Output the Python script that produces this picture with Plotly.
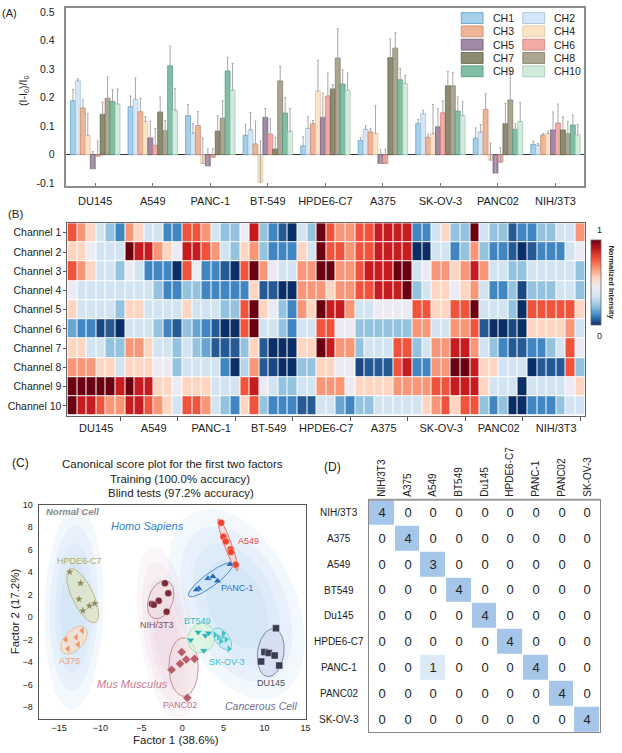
import numpy as np
import plotly.graph_objects as go

W, H = 622, 753
FONT = "Liberation Sans, Arial, sans-serif"


def fx(p):
    return p / W


def fy(p):
    return 1 - p / H


# ---------------- Panel A data ----------------
cell_lines = ["DU145", "A549", "PANC-1", "BT-549", "HPDE6-C7", "A375", "SK-OV-3", "PANC02", "NIH/3T3"]
channel_names = ["CH1", "CH2", "CH3", "CH4", "CH5", "CH6", "CH7", "CH8", "CH9", "CH10"]

CH1 = [0.189, 0.168, 0.137, 0.068, 0.031, 0.050, 0.109, 0.058, 0.036]
CH2 = [0.259, 0.194, 0.076, 0.087, 0.092, 0.089, 0.144, 0.080, 0.033]
CH3 = [0.164, 0.151, 0.103, 0.038, 0.109, 0.080, 0.061, 0.159, 0.069]
CH4 = [0.068, 0.117, -0.031, -0.097, 0.224, 0.074, 0.074, -0.019, 0.074]
CH5 = [-0.049, 0.059, -0.039, 0.131, 0.131, -0.031, 0.098, -0.064, 0.087]
CH6 = [-0.005, 0.033, -0.009, 0.072, 0.206, -0.031, 0.147, -0.026, 0.111]
CH7 = [0.142, 0.150, 0.083, 0.020, 0.231, 0.341, 0.242, 0.109, 0.087]
CH8 = [0.198, 0.084, 0.128, 0.259, 0.339, 0.374, 0.242, 0.192, 0.074]
CH9 = [0.187, 0.312, 0.294, 0.146, 0.248, 0.263, 0.153, 0.089, 0.104]
CH10 = [0.178, 0.157, 0.226, 0.083, 0.226, 0.250, 0.137, 0.117, 0.070]

ERR1 = [0.040, 0.038, 0.039, 0.039, 0.032, 0.011, 0.015, 0.036, 0.011]
ERR2 = [0.008, 0.075, 0.033, 0.061, 0.041, 0.013, 0.012, 0.026, 0.006]
ERR3 = [0.028, 0.047, 0.048, 0.080, 0.011, 0.011, 0.011, 0.055, 0.005]
ERR4 = [0.076, 0.016, 0.090, 0.145, 0.107, 0.098, 0.102, 0.060, 0.009]
ERR5 = [0.060, 0.059, 0.060, 0.031, 0.085, 0.050, 0.063, 0.060, 0.063]
ERR6 = [0.053, 0.059, 0.030, 0.054, 0.081, 0.050, 0.042, 0.050, 0.067]
ERR7 = [0.042, 0.053, 0.054, 0.041, 0.015, 0.065, 0.050, 0.071, 0.046]
ERR8 = [0.075, 0.036, 0.061, 0.052, 0.103, 0.054, 0.047, 0.102, 0.043]
ERR9 = [0.042, 0.069, 0.048, 0.055, 0.050, 0.040, 0.050, 0.020, 0.035]
ERR10 = [0.053, 0.076, 0.094, 0.079, 0.061, 0.028, 0.049, 0.066, 0.036]

bar_values = [CH1, CH2, CH3, CH4, CH5, CH6, CH7, CH8, CH9, CH10]
bar_errors = [ERR1, ERR2, ERR3, ERR4, ERR5, ERR6, ERR7, ERR8, ERR9, ERR10]
bar_fill = ["#a6d0ea", "#d5e7f6", "#efb396", "#fde3c6", "#a08aa6",
            "#f2aaa4", "#8c8c72", "#aaa690", "#80bfa6", "#d3ebdd"]
bar_line = ["#5a9cc8", "#9dbfdc", "#c98a6e", "#e3c19c", "#6e5a78",
            "#d07f7a", "#5e5e48", "#7c7864", "#4f957b", "#9fc6ae"]

# ---------------- Panel B data (0 = low ... 9 = high) ----------------
channel_labels = ["Channel %d" % i for i in range(1, 11)]
heat_row1 = [7,6,5,3,2,1, 6,5,3,3,1,1, 7,7,6,3,2,2, 4,8,2,1,0.5,0, 3,2,9,7,6,6, 7,7,8,8,8,8, 1,1,3,5,2,2, 9,3,2,2,0.5,1, 1,2,2,3,3,6]
heat_row2 = [5,5,4,3,3,3, 9,8,8,6,5,4, 8,8,7,6,3,2, 5,6,2,1,1,1, 5,3,9,7,7,6, 7,7,8,8,8,8, 0,0,3,3,1,2, 6,2,1,1,0.5,0, 0.5,1,1,1,3,4]
heat_row3 = [7,6,5,3,3,2, 4,3,1,1,1,0, 7,4,1,1,0.5,0, 7,9,6,4,3,3, 6,6,9,9,6,6, 7,8,8,8,9,9, 3,4,6,6,5,6, 8,6,3,3,2,2, 3,3,3,3,3,2]
heat_row4 = [4,3,3,3,3,3, 3,3,3,2,1,1, 2,2,1,1,1,1, 1,5,0.5,0.5,0,0, 6,6,6,5,6,6, 7,7,8,8,8,9, 2,3,5,5,4,5, 6,3,1,1,2,0.3, 2,2,2,3,3,2]
heat_row5 = [5,3,3,3,3,2, 5,5,3,3,3,3, 5,3,3,3,2,2, 7,9,5,4,2,1, 6,5,9,8,8,6, 3,3,4,4,4,4, 7,7,5,5,7,7, 9,3,3,3,2,0, 7,7,7,7,7,5]
heat_row6 = [1.5,1,1,0.3,0.5,0, 3,3,3,2,1,0.5, 2,1.5,1,0.5,0,0, 7,9,3,3,2,1, 3,3,7,7,4,4, 2,2,2,2,2,2, 6,6,3,3,6,6, 7,0.5,0,0,0.3,0, 5,5,5,5,6,3]
heat_row7 = [5,5,3,3,2,2, 6,6,5,3,3,2, 3,2,1.5,0.5,0.5,0.5, 2,5,0.5,0,0,0, 5,5,9,8,6,6, 2,3,3,3,7,7, 2,3,6,6,8,8, 6,3,2,1,0.5,0.5, 1,1,2,3,7,4]
heat_row8 = [6,6,6,5,5,3, 5,5,5,4,4,2, 3,3,3,3,1,0, 2.5,6,0.5,0.3,0,0, 2,2,5,5,4,4, 0.3,0.5,0.5,0.5,7,8, 1,1,6,6,9,9, 8,5,5,3,3,3, 0,0.5,0.5,0.5,7,2]
heat_row9 = [9,9,9,9,9,8, 9,8,8,5,5,4, 5,5,5,3,3,3, 7,8,4,3,2,2, 3,3,6,6,6,4, 5,5,5,5,6,6, 6,6,7,7,8,8, 8,5,3,3,3,0, 3,3,3,3,4,5]
heat_row10 = [9,8,8,7,6,6, 8,8,7,6,5,3, 7,7,6,3,2,1, 5,7,2,1,1,1, 0.5,0.5,3,3,1.5,1, 2,2,3,3,3,3, 3,5,6,7,5,7, 7,2,1,2,0,0, 1,1,1,2,3,3]
heat_rows = [heat_row1, heat_row2, heat_row3, heat_row4, heat_row5,
             heat_row6, heat_row7, heat_row8, heat_row9, heat_row10]
reps_per_line = 6
heat_colors = ["#0a2e66", "#3f86c2", "#93c3df", "#d2e4f1", "#ecebf3",
               "#fdd5c0", "#f99677", "#f0533b", "#c61c1f", "#6a0010"]

# ---------------- Panel C data ----------------
a549_x = [4.72, 5.0, 5.28, 5.88, 5.92, 6.48]
a549_y = [8.38, 7.14, 6.73, 6.02, 5.78, 4.66]
panc1_x = [5.8, 3.12, 3.72, 4.28, 2.0, 1.72]
panc1_y = [4.69, 3.42, 3.6, 3.21, 2.54, 2.42]
hpde_x = [-13.72, -12.4, -12.6, -12.12, -11.32, -10.68]
hpde_y = [4.01, 3.01, 1.59, 0.56, 1.0, 1.21]
a375_x = [-12.2, -12.93, -14.2, -13.93, -12.69]
a375_y = [-1.21, -1.8, -2.0, -2.83, -2.45]
nih_x = [-2.12, -1.72, -2.88, -3.72, -3.48, -1.92]
nih_y = [3.01, 2.12, 1.44, 1.15, 1.09, 0.47]
panc02_x = [-0.08, -0.28, 0.48, 1.48, -1.32, 0.6]
panc02_y = [-3.12, -4.16, -3.78, -3.72, -4.69, -7.19]
du145_x = [11.4, 10.0, 10.52, 11.24, 9.6, 11.8]
du145_y = [-1.0, -3.12, -3.19, -3.42, -3.96, -4.31]
bt549_x = [1.0, 1.92, 2.6, 2.8, 3.2]
bt549_y = [-2.04, -1.35, -2.98, -1.65, -1.42]
skov3_x = [4.0, 4.4, 4.92, 4.68, 5.32, 5.68, 5.0]
skov3_y = [-1.59, -1.8, -1.71, -2.15, -2.0, -2.83, -1.45]

# name, xs, ys, symbol, marker color, ellipse fill, ellipse line, label color, label pos
clusters = [
    ("HPDE6-C7", hpde_x, hpde_y, "star", "#8b8b5c", "rgba(222,228,185,0.65)", "#b8b88c", "#b0ad62", (-12.5, 4.96)),
    ("A375", a375_x, a375_y, "triangle-left", "#ee9268", "rgba(250,222,195,0.65)", "#f0bc98", "#eea070", (-13.8, -3.89)),
    ("NIH/3T3", nih_x, nih_y, "circle", "#7a2a38", "rgba(238,220,220,0.55)", "#b89090", "#7d4b5a", (-3.12, -0.71)),
    ("PANC02", panc02_x, panc02_y, "diamond", "#b85c68", "rgba(242,220,222,0.45)", "#c89090", "#c0707e", (-0.24, -7.79)),
    ("A549", a549_x, a549_y, "circle", "#f2402f", "rgba(250,205,195,0.55)", "#f07060", "#f04a35", (8.04, 6.73)),
    ("PANC-1", panc1_x, panc1_y, "triangle-up", "#1f68b8", "rgba(205,228,246,0.6)", "#4a8ad0", "#2a75c5", (6.6, 2.57)),
    ("BT549", bt549_x, bt549_y, "triangle-down", "#2bb3b8", "rgba(215,246,218,0.75)", "#a8dcb8", "#3dbfbf", (1.8, -0.35)),
    ("SK-OV-3", skov3_x, skov3_y, "triangle-right", "#45c0cc", "rgba(192,236,242,0.6)", "#70ccd6", "#3dbfd0", (5.4, -4.0)),
    ("DU145", du145_x, du145_y, "square", "#3a3d52", "rgba(208,216,236,0.65)", "#7a88aa", "#4a4d5e", (10.8, -5.84)),
]

region_names = ["Normal Cell", "Mus Musculus", "Cancerous Cell"]
region_center = [(-13.2, 0.8), (-2.0, -1.5), (6.6, 1.15)]
region_u = [(0.3, 9.0), (1.6, -7.75), (5.1, -8.19)]
region_v = [(3.6, 0.0), (3.2, 0.3), (-6.57, -2.22)]
region_rgb = ["150,190,240", "220,172,200", "150,190,240"]

# ---------------- Panel D data ----------------
conf_labels = ["NIH/3T3", "A375", "A549", "BT549", "Du145", "HPDE6-C7", "PANC-1", "PANC02", "SK-OV-3"]
conf_matrix = [
    [4, 0, 0, 0, 0, 0, 0, 0, 0],
    [0, 4, 0, 0, 0, 0, 0, 0, 0],
    [0, 0, 3, 0, 0, 0, 0, 0, 0],
    [0, 0, 0, 4, 0, 0, 0, 0, 0],
    [0, 0, 0, 0, 4, 0, 0, 0, 0],
    [0, 0, 0, 0, 0, 4, 0, 0, 0],
    [0, 0, 1, 0, 0, 0, 4, 0, 0],
    [0, 0, 0, 0, 0, 0, 0, 4, 0],
    [0, 0, 0, 0, 0, 0, 0, 0, 4],
]

fig = go.Figure()

# ---------------- Panel A traces ----------------
for i in range(10):
    fig.add_trace(go.Bar(
        x=cell_lines, y=bar_values[i], name=channel_names[i],
        marker=dict(color=bar_fill[i], line=dict(color=bar_line[i], width=0.7)),
        error_y=dict(type="data", array=bar_errors[i], arrayminus=[0] * len(cell_lines),
                     symmetric=False, color="#a8a8a8", thickness=1, width=1),
        xaxis="x", yaxis="y", showlegend=False, hoverinfo="skip"))

# ---------------- Panel B heatmap ----------------
z = np.array(heat_rows, dtype=float) / 9.0
cs = [[i / 9.0, c] for i, c in enumerate(heat_colors)]
n_cols = z.shape[1]
fig.add_trace(go.Heatmap(
    z=z, x=list(range(n_cols)), y=channel_labels, colorscale=cs, zmin=0, zmax=1,
    xgap=1, ygap=1, xaxis="x2", yaxis="y2", hoverinfo="skip",
    colorbar=dict(x=fx(596), xanchor="left", y=fy(280), yanchor="middle",
                  len=86 / H, lenmode="fraction", thickness=10, thicknessmode="pixels",
                  xpad=0, ypad=0,
                  outlinewidth=0.8, outlinecolor="#666", showticklabels=False, ticks="")))

# ---------------- Panel C ----------------
t = np.linspace(0, 2 * np.pi, 120)
for name, c, u, v, rgb in zip(region_names, region_center, region_u, region_v, region_rgb):
    for s in [1.0, 0.82, 0.64, 0.46]:
        ex = c[0] + s * (np.cos(t) * u[0] + np.sin(t) * v[0])
        ey = c[1] + s * (np.cos(t) * u[1] + np.sin(t) * v[1])
        fig.add_trace(go.Scatter(x=ex, y=ey, mode="lines", fill="toself",
                                 fillcolor="rgba(%s,0.11)" % rgb, line=dict(width=0),
                                 xaxis="x3", yaxis="y3", showlegend=False, hoverinfo="skip"))


def conf_ellipse(xs, ys, k=1.65, pad=0.22, n=90):
    pts = np.column_stack([xs, ys])
    mu = pts.mean(axis=0)
    cov = np.cov(pts.T)
    vals, vecs = np.linalg.eigh(cov)
    radii = k * np.sqrt(np.maximum(vals, 0)) + pad
    tt = np.linspace(0, 2 * np.pi, n)
    circ = np.column_stack([np.cos(tt), np.sin(tt)]) * radii
    e = circ @ vecs.T + mu
    return e[:, 0], e[:, 1]


for name, xs, ys, sym, mc, efill, eline, lc, lp in clusters:
    ex, ey = conf_ellipse(xs, ys)
    fig.add_trace(go.Scatter(x=ex, y=ey, mode="lines", fill="toself", fillcolor=efill,
                             line=dict(color=eline, width=1), xaxis="x3", yaxis="y3",
                             showlegend=False, hoverinfo="skip"))
for name, xs, ys, sym, mc, efill, eline, lc, lp in clusters:
    fig.add_trace(go.Scatter(x=xs, y=ys, mode="markers",
                             marker=dict(symbol=sym, color=mc, size=7,
                                         line=dict(color="rgba(255,255,255,0.6)", width=0.6)),
                             xaxis="x3", yaxis="y3", showlegend=False, name=name))

# ---------------- Panel D ----------------
cs_d = [[0, "#ffffff"], [0.125, "#ffffff"], [0.125, "#dce9f6"], [0.375, "#dce9f6"],
        [0.375, "#a5c6e8"], [1, "#a5c6e8"]]
fig.add_trace(go.Heatmap(
    z=conf_matrix, x=conf_labels, y=conf_labels, colorscale=cs_d, zmin=0, zmax=4,
    showscale=False, xgap=1, ygap=1, texttemplate="%{z}",
    textfont=dict(size=13, color="#222", family=FONT),
    xaxis="x4", yaxis="y4", hoverinfo="skip"))

# ---------------- annotations ----------------
ann = []


def paper_text(text, x, y, size, color="#222", angle=0, xanchor="center", **kw):
    ann.append(dict(text=text, x=fx(x), y=fy(y), xref="paper", yref="paper",
                    showarrow=False, textangle=angle, xanchor=xanchor, yanchor="middle",
                    font=dict(size=size, color=color, family=FONT), **kw))


paper_text("(A)", 10, 8, 11)
paper_text("(B)", 16, 211, 11.5)
paper_text("(C)", 21, 463, 12)
paper_text("(D)", 335, 467, 12)
paper_text("(I-I<sub>0</sub>)/I<sub>0</sub>", 24, 87, 10.5, angle=-90)

# manual legend for panel A
leg_x = [465, 527]
leg_text_x = [495, 556]
for i, nm in enumerate(channel_names):
    col, row = i % 2, i // 2
    yc = 13.2 + 13.45 * row
    fig.add_shape(type="rect", xref="paper", yref="paper",
                  x0=fx(leg_x[col]), x1=fx(leg_x[col] + 22), y0=fy(yc + 5.5), y1=fy(yc - 5.5),
                  fillcolor=bar_fill[i], line=dict(color=bar_line[i], width=0.8))
    paper_text(nm, leg_text_x[col], yc, 10.5, xanchor="left")

# colorbar labels
paper_text("1", 604, 227, 9)
paper_text("0", 604, 335, 9)
ann.append(dict(text="<b>Normalized Intensity</b>", x=fx(610), y=fy(280), xref="paper",
                yref="paper", showarrow=False, textangle=90, xanchor="left", yanchor="middle",
                font=dict(size=7.5, color="#222", family=FONT)))

# panel C titles
paper_text("Canonical score plot for the first two factors", 174, 464, 11.5)
paper_text("Training (100.0% accuracy)", 181, 479, 11.5)
paper_text("Blind tests (97.2% accuracy)", 182, 493, 11.5)
paper_text("Factor 1 (38.6%)", 177, 743, 11.5)
paper_text("Factor 2 (17.2%)", 16, 613, 11.5, angle=-90)

for name, xs, ys, sym, mc, efill, eline, lc, lp in clusters:
    ann.append(dict(text=name, x=lp[0], y=lp[1], xref="x3", yref="y3", showarrow=False,
                    font=dict(size=9, color=lc, family=FONT)))

region_label_pos = [(-13.4, 9.38), (-6.1, -6.0), (9.6, -7.9)]
region_label_style = [("<b><i>Normal Cell</i></b>", "#8a8a8a", 9.5),
                      ("<i>Mus Musculus</i>", "#c87b92", 11),
                      ("<i>Cancerous Cell</i>", "#6e6e90", 10.5)]
for (px_, py_), (txt, col, sz) in zip(region_label_pos, region_label_style):
    ann.append(dict(text=txt, x=px_, y=py_, xref="x3", yref="y3", showarrow=False,
                    font=dict(size=sz, color=col, family=FONT)))
ann.append(dict(text="<i>Homo Sapiens</i>", x=-4.2, y=8.14, xref="x3", yref="y3", showarrow=False,
                font=dict(size=11, color="#2f7fd0", family=FONT)))

# panel D row labels (centered)
for lab in conf_labels:
    ann.append(dict(text=lab, x=fx(342), y=lab, xref="paper", yref="y4", showarrow=False,
                    xanchor="center", font=dict(size=10, color="#222", family=FONT)))

fig.add_shape(type="line", xref="paper", yref="paper", x0=fx(372), x1=fx(605),
              y0=fy(500), y1=fy(500), line=dict(color="#9a9a9a", width=2))

group_centers = [reps_per_line * g + (reps_per_line - 1) / 2 for g in range(len(cell_lines))]
group_ticks = [reps_per_line * g + reps_per_line - 1 for g in range(len(cell_lines))]

fig.update_layout(
    width=W, height=H, margin=dict(l=0, r=0, t=0, b=0),
    paper_bgcolor="white", plot_bgcolor="white",
    font=dict(family=FONT, size=10, color="#222"),
    barmode="group", bargap=0.14, bargroupgap=0, showlegend=False,
    annotations=ann,
    xaxis=dict(domain=[fx(67), fx(589)], anchor="y", type="category", ticks="inside",
               ticklen=3, tickcolor="#777", tickfont=dict(size=11), showline=True, mirror=True,
               linecolor="#8c8c8c", linewidth=1.5, showgrid=False, ticklabelstandoff=4),
    yaxis=dict(domain=[fy(183), fy(3)], anchor="x", range=[-0.11, 0.515],
               tickvals=[-0.1, 0, 0.1, 0.2, 0.3, 0.4, 0.5],
               ticktext=["-0.1", "0", "0.1", "0.2", "0.3", "0.4", "0.5"],
               showline=True, mirror=True, linecolor="#8c8c8c", linewidth=1.5,
               showgrid=False, zeroline=True, zerolinecolor="#333", zerolinewidth=1,
               ticks="", tickfont=dict(size=10.5), ticklabelstandoff=8),
    xaxis2=dict(domain=[fx(68), fx(589.7)], anchor="y2", range=[-0.5, n_cols - 0.5],
                tickvals=group_centers, ticktext=cell_lines, ticks="", tickfont=dict(size=11),
                minor=dict(tickvals=group_ticks, ticks="outside", ticklen=4, tickcolor="#555"),
                showline=True, mirror=True, linecolor="#666", linewidth=1, showgrid=False,
                zeroline=False, ticklabelstandoff=2),
    yaxis2=dict(domain=[fy(415), fy(220.5)], anchor="x2", autorange="reversed",
                ticks="outside", ticklen=3, tickcolor="#555", tickfont=dict(size=10.5),
                showline=True, mirror=True, linecolor="#666", linewidth=1, showgrid=False),
    xaxis3=dict(domain=[fx(39), fx(308)], anchor="y3", range=[-17.5, 15],
                tickvals=[-15, -10, -5, 0, 5, 10, 15], tickfont=dict(size=9), ticks="",
                showline=True, mirror=True, linecolor="#555", linewidth=1.2,
                showgrid=False, zeroline=False),
    yaxis3=dict(domain=[fy(722), fy(505)], anchor="x3", range=[-9.1, 10],
                tickvals=[-8, -6, -4, -2, 0, 2, 4, 6, 8, 10], tickfont=dict(size=9), ticks="",
                showline=True, mirror=True, linecolor="#555", linewidth=1.2,
                showgrid=False, zeroline=False, ticklabelstandoff=3),
    xaxis4=dict(domain=[fx(372), fx(605)], anchor="y4", side="top", tickangle=-90,
                tickfont=dict(size=10), ticks="", showline=True, mirror=True,
                linecolor="#888", linewidth=1, showgrid=False),
    yaxis4=dict(domain=[fy(735), fy(500)], anchor="x4", autorange="reversed",
                showticklabels=False, ticks="", showline=True, mirror=True,
                linecolor="#888", linewidth=1, showgrid=False),
)

fig.write_html("out.html", config={"displayModeBar": False},
               post_script="document.body.style.margin='0px';")
